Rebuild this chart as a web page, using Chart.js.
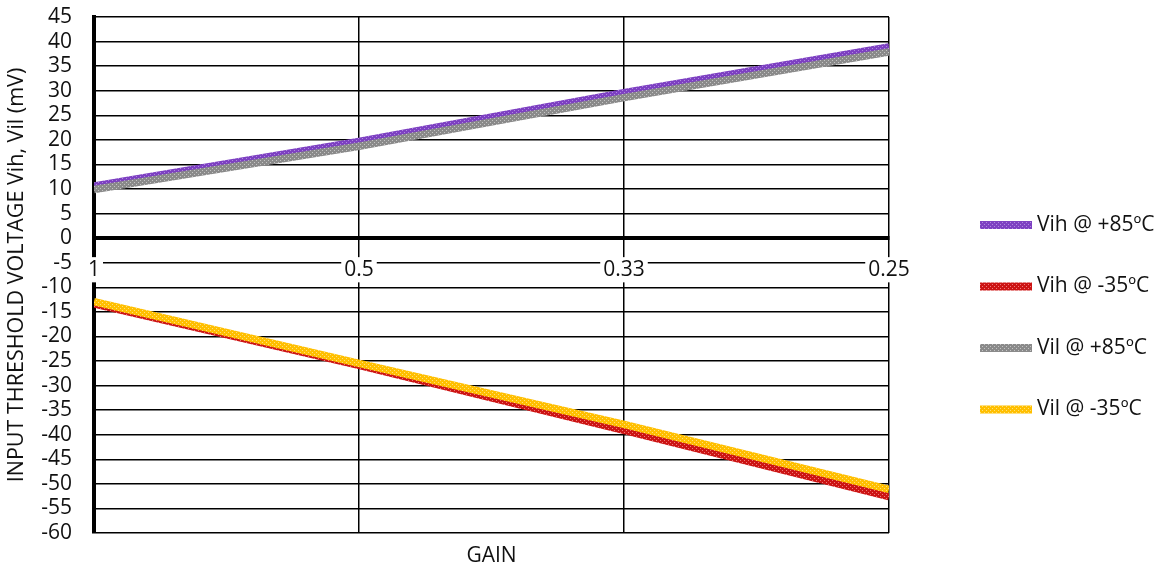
<!DOCTYPE html>
<html>
<head>
<meta charset="utf-8">
<script src="https://cdn.jsdelivr.net/npm/chart.js@4.4.0/dist/chart.umd.min.js"></script>
<style>
  html, body { margin: 0; padding: 0; background: #fff; }
  #wrap { width: 1167px; height: 570px; }
</style>
</head>
<body>
<div id="wrap"><canvas id="chart"></canvas></div>
<script>
const gains = ['1', '0.5', '0.33', '0.25'];
const vihHot = [10.6, 19.7, 29.6, 38.9];
const vihCold = [-13.4, -25.9, -39.1, -52.6];
const vilHot = [9.9, 18.7, 28.6, 37.9];
const vilCold = [-12.9, -25.5, -37.9, -51.1];
const yTicks = { min: -60, max: 45, step: 5 };

const FONT = "'Open Sans', sans-serif";

function makePattern(base, dot){
    const c = document.createElement('canvas');
    c.width = 4;
    c.height = 4;
    const g = c.getContext('2d');
    g.fillStyle = base;
    g.fillRect(0, 0, 4, 4);
    g.fillStyle = dot;
    g.fillRect(0, 0, 1, 1);
    g.fillRect(2, 2, 1, 1);
    return g.createPattern(c, 'repeat');
}

function series(label, data, base, dot, order){
    return {
        label: label,
        data: data,
        borderColor: makePattern(base, dot),
        legendColor: base,
        legendDot: dot,
        borderWidth: 7.5,
        pointRadius: 0,
        tension: 0,
        order: order,
        clip: 0
    };
}

// legend on the right + x axis title, drawn by hand
const extras = {
    id: 'extras',
    afterDraw(chart){
        const ctx = chart.ctx;
        const area = chart.chartArea;
        ctx.save();
        ctx.font = '21px ' + FONT;
        ctx.fillStyle = '#111';
        ctx.textAlign = 'center';
        ctx.textBaseline = 'middle';
        ctx.fillText('GAIN', (area.left + area.right) / 2, 556);

        ctx.textAlign = 'left';
        chart.data.datasets.forEach((ds, i) => {
            const y = 225 + i * 61.5;
            ctx.fillStyle = makePattern(ds.legendColor, ds.legendDot);
            ctx.fillRect(980, y - 4, 52, 8);
            ctx.fillStyle = '#111';
            ctx.fillText(ds.label, 1037, y);
        });
        ctx.restore();
    }
};

new Chart(document.getElementById('chart'), {
    type: 'line',
    data: {
        labels: gains,
        datasets: [
            series('Vih @ +85ºC', vihHot, '#7d40c2', '#b08ae0', 3),
            series('Vih @ -35ºC', vihCold, '#cc1414', '#f07a7a', 2),
            series('Vil @ +85ºC', vilHot, '#8a8a8a', '#c4c4c4', 1),
            series('Vil @ -35ºC', vilCold, '#ffbf00', '#ffe07a', 0)
        ]
    },
    options: {
        responsive: true,
        maintainAspectRatio: false,
        animation: false,
        layout: {
            padding: { left: 0, top: 17, right: 278, bottom: 37 }
        },
        plugins: {
            legend: { display: false },
            tooltip: { enabled: false }
        },
        scales: {
            x: {
                type: 'category',
                offset: false,
                position: { y: 0 },
                afterFit(scale){
                    scale.paddingTop = 0;
                    scale.paddingBottom = 0;
                },
                grid: {
                    color: '#000',
                    lineWidth: 1.5,
                    drawTicks: false
                },
                border: { color: '#000', width: 4 },
                ticks: {
                    z: 1,
                    padding: 19,
                    maxRotation: 0,
                    autoSkip: false,
                    color: '#111',
                    font: { family: FONT, size: 21 },
                    showLabelBackdrop: true,
                    backdropColor: '#fff',
                    backdropPadding: { x: 3, y: 0 }
                }
            },
            y: {
                min: yTicks.min,
                max: yTicks.max,
                afterFit(scale){
                    scale.width = 94;
                    scale.paddingTop = 0;
                    scale.paddingBottom = 0;
                },
                grid: {
                    color: '#000',
                    lineWidth: 1.5,
                    drawTicks: false
                },
                border: { color: '#000', width: 4 },
                ticks: {
                    stepSize: yTicks.step,
                    autoSkip: false,
                    padding: 22,
                    color: '#111',
                    font: { family: FONT, size: 21 }
                },
                title: {
                    display: true,
                    text: 'INPUT THRESHOLD VOLTAGE Vih, Vil (mV)',
                    color: '#111',
                    font: { family: FONT, size: 21.5 },
                    padding: { top: 4, bottom: 0 }
                }
            }
        }
    },
    plugins: [extras]
});
</script>
</body>
</html>
